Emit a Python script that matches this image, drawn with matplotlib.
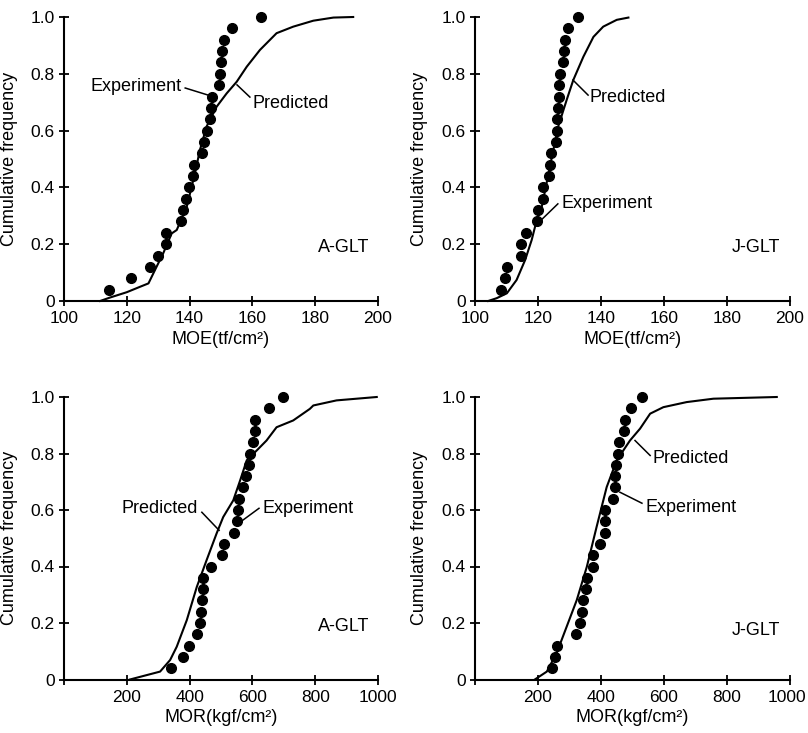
import matplotlib
matplotlib.use("Agg")
import matplotlib.pyplot as plt
from matplotlib.transforms import ScaledTranslation

plt.rcParams['font.family'] = ['Liberation Sans', 'DejaVu Sans']

# ---------------- data ----------------
exp_frac = [k / 25 for k in range(1, 26)]

a_moe_exp = [114.4, 121.3, 127.4, 130.0, 132.5, 132.5, 137.3, 137.8, 138.9, 139.9,
             141.0, 141.5, 144.0, 144.6, 145.4, 146.5, 146.7, 147.2, 149.5, 149.7,
             149.9, 150.2, 151.1, 153.6, 162.7]
a_moe_pred_x = [111.5, 114.6, 120.0, 124.2, 126.9, 129.5, 131.6, 134.3, 135.9, 139.1,
                141.7, 143.3, 145.4, 148.6, 151.8, 155.0, 158.2, 162.4, 167.7, 173.0,
                179.4, 185.8, 192.1]
a_moe_pred_y = [0.0, 0.012, 0.031, 0.050, 0.062, 0.121, 0.168, 0.238, 0.250, 0.332,
                0.450, 0.532, 0.614, 0.684, 0.731, 0.772, 0.825, 0.884, 0.943, 0.966,
                0.987, 0.998, 1.0]

j_moe_exp = [108.1, 109.5, 110.3, 114.5, 114.6, 116.2, 119.6, 120.1, 121.5, 121.5,
             123.6, 123.8, 124.1, 125.6, 126.1, 126.1, 126.4, 126.7, 126.7, 127.0,
             127.8, 128.3, 128.6, 129.4, 132.8]
j_moe_pred_x = [104.2, 106.9, 110.1, 113.2, 115.9, 118.0, 119.6, 121.2, 123.8, 126.4,
                129.1, 131.2, 134.4, 137.6, 140.7, 145.0, 148.7]
j_moe_pred_y = [0.0, 0.010, 0.027, 0.074, 0.144, 0.215, 0.285, 0.332, 0.474, 0.614,
                0.708, 0.778, 0.860, 0.930, 0.966, 0.990, 0.998]

a_mor_exp = [341, 380, 399, 423, 433, 436, 441, 442, 444, 468,
             504, 510, 541, 550, 555, 558, 571, 580, 590, 592,
             603, 608, 608, 653, 698]
a_mor_pred_x = [210, 306, 338, 359, 391, 423, 454, 486, 507, 539,
                561, 582, 614, 645, 677, 730, 783, 794, 868, 996]
a_mor_pred_y = [0.0, 0.028, 0.069, 0.116, 0.210, 0.328, 0.422, 0.517, 0.575, 0.634,
                0.705, 0.776, 0.811, 0.846, 0.893, 0.917, 0.958, 0.970, 0.988, 1.0]

j_mor_exp = [243, 254, 261, 321, 333, 339, 342, 352, 355, 374,
             376, 397, 413, 413, 413, 437, 444, 444, 448, 455,
             458, 474, 476, 495, 531]
j_mor_pred_x = [190, 228, 259, 291, 323, 355, 386, 418, 450, 492,
                524, 556, 598, 672, 757, 958]
j_mor_pred_y = [0.0, 0.028, 0.093, 0.187, 0.281, 0.399, 0.540, 0.681, 0.776, 0.846,
                0.888, 0.941, 0.964, 0.982, 0.994, 1.0]

y_ticks = [0, 0.2, 0.4, 0.6, 0.8, 1.0]
y_ticklabels = ['0', '0.2', '0.4', '0.6', '0.8', '1.0']
moe_ticks = [100, 120, 140, 160, 180, 200]
mor_ticks = [0, 200, 400, 600, 800, 1000]
mor_ticklabels = ['', '200', '400', '600', '800', '1000']

# ---------------- figure ----------------
fig = plt.figure(figsize=(8.08, 7.33), dpi=100)
FS = 13
TFS = 12.5

rects = {
    'tl': [64 / 808, 1 - 301 / 733, 314 / 808, 284 / 733],
    'tr': [475 / 808, 1 - 301 / 733, 315 / 808, 284 / 733],
    'bl': [64 / 808, 1 - 679.5 / 733, 314 / 808, 282.5 / 733],
    'br': [475 / 808, 1 - 679.5 / 733, 315 / 808, 282.5 / 733],
}


def style(ax, xlim, xticks, xticklabels, xlabel):
    ax.set_xlim(*xlim)
    ax.set_ylim(0, 1.0)
    for s in ['top', 'right']:
        ax.spines[s].set_visible(False)
    for s in ['left', 'bottom']:
        ax.spines[s].set_linewidth(1.5)
    ax.set_xticks(xticks)
    ax.set_xticklabels(xticklabels, fontsize=TFS)
    ax.set_yticks(y_ticks)
    ax.set_yticklabels(y_ticklabels, fontsize=TFS)
    ax.tick_params(direction='inout', length=7, width=1.3)
    ax.tick_params(axis='x', pad=4)
    ax.tick_params(axis='y', pad=3)
    ax.set_xlabel(xlabel, fontsize=FS, labelpad=3)
    ax.set_ylabel('Cumulative frequency', fontsize=FS)
    ax.yaxis.set_label_coords(-0.148, 0.5)


def nudge_last_xlabel(ax, dx_px):
    lab = ax.get_xticklabels()[-1]
    lab.set_transform(lab.get_transform() + ScaledTranslation(dx_px / 100, 0, fig.dpi_scale_trans))


def panel(ax, exp_x, px, py):
    ax.plot(px, py, color='black', lw=1.5, clip_on=False, zorder=2)
    ax.plot(exp_x, exp_frac, 'o', color='black', ms=7, clip_on=False, zorder=3)


def label(ax, text, txy, a, b, ha='left'):
    ax.text(txy[0], txy[1], text, fontsize=FS, ha=ha, va='center')
    ax.plot([a[0], b[0]], [a[1], b[1]], color='black', lw=1.1)


ax = fig.add_axes(rects['tl'])
panel(ax, a_moe_exp, a_moe_pred_x, a_moe_pred_y)
style(ax, (100, 200), moe_ticks, [str(t) for t in moe_ticks], 'MOE(tf/cm²)')
label(ax, 'Experiment', (137.6, 0.757), (138.6, 0.750), (145.9, 0.725), ha='right')
label(ax, 'Predicted', (159.9, 0.697), (155.1, 0.761), (159.2, 0.718))
ax.text(180.9, 0.187, 'A-GLT', fontsize=FS, ha='left', va='center')

ax = fig.add_axes(rects['tr'])
panel(ax, j_moe_exp, j_moe_pred_x, j_moe_pred_y)
style(ax, (100, 200), moe_ticks, [str(t) for t in moe_ticks], 'MOE(tf/cm²)')
label(ax, 'Predicted', (136.5, 0.715), (131.1, 0.778), (135.9, 0.725))
label(ax, 'Experiment', (127.6, 0.345), (121.0, 0.285), (126.3, 0.342))
ax.text(181.6, 0.187, 'J-GLT', fontsize=FS, ha='left', va='center')

ax = fig.add_axes(rects['bl'])
panel(ax, a_mor_exp, a_mor_pred_x, a_mor_pred_y)
style(ax, (0, 1000), mor_ticks, mor_ticklabels, 'MOR(kgf/cm²)')
label(ax, 'Predicted', (427, 0.606), (439, 0.592), (494, 0.528), ha='right')
label(ax, 'Experiment', (631, 0.606), (621, 0.606), (561, 0.557))
ax.text(809, 0.186, 'A-GLT', fontsize=FS, ha='left', va='center')

ax = fig.add_axes(rects['br'])
panel(ax, j_mor_exp, j_mor_pred_x, j_mor_pred_y)
style(ax, (0, 1000), mor_ticks, mor_ticklabels, 'MOR(kgf/cm²)')
nudge_last_xlabel(ax, -3)
label(ax, 'Predicted', (562, 0.783), (508, 0.846), (556, 0.793))
label(ax, 'Experiment', (540, 0.610), (460, 0.663), (530, 0.624))
ax.text(816, 0.175, 'J-GLT', fontsize=FS, ha='left', va='center')

fig.savefig('out.png', dpi=100)
